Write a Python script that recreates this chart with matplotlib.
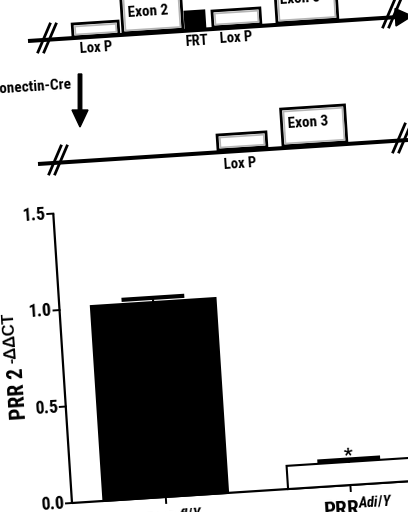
"""
Recreation of the PRR knockout figure: gene targeting schematic on top,
PRR 2^-ddCT bar chart below. The source image is tilted by a few degrees,
so the whole drawing is rotated by TILT.
"""

import matplotlib
matplotlib.use("Agg")
import matplotlib.pyplot as plt
from matplotlib import font_manager
from matplotlib.patches import Rectangle, Polygon, FancyArrow
from matplotlib.transforms import Affine2D

# ── fonts ────────────────────────────────────────────────────────────────────
_names = {f.name for f in font_manager.fontManager.ttflist}
_narrow = [n for n in ("Roboto Condensed", "Liberation Sans Narrow", "Archivo Narrow")
           if n in _names]
NARROW = _narrow[0] if _narrow else "Liberation Sans"
WIDE = "Liberation Sans"

plt.rcParams.update({
    "font.family": [NARROW, "DejaVu Sans"],
    "font.weight": "bold",
    "mathtext.fontset": "custom",
    "mathtext.rm": f"{NARROW}:bold",
    "mathtext.it": f"{NARROW}:bold:italic",
    "mathtext.bf": f"{NARROW}:bold",
})

# ── data ─────────────────────────────────────────────────────────────────────
genotypes = [r"PRR$^{fl/Y}$", r"PRR$^{Adi/Y}$"]
expression = [1.01, 0.12]
sem = [0.022, 0.012]
bar_colors = ["black", "white"]
significance = ["", "*"]
y_ticks = [0.0, 0.5, 1.0, 1.5]
y_label_main = "PRR 2"
y_label_sup = "-ΔΔCT"

# ── figure ───────────────────────────────────────────────────────────────────
W, H, DPI = 408, 512, 100
TILT = 3.7
fig = plt.figure(figsize=(W / DPI, H / DPI), dpi=DPI)

# schematic layer, pixel coordinates with y pointing down
sk = fig.add_axes([0, 0, 1, 1])
sk.set_xlim(0, W)
sk.set_ylim(H, 0)
sk.axis("off")


def strand(p0, p1):
    sk.plot([p0[0], p1[0]], [p0[1], p1[1]], color="black", lw=2.9,
            solid_capstyle="butt", zorder=2)


def box(x, y, w, h, fill="white", inner=True):
    sk.add_patch(Rectangle((x, y), w, -h, angle=-TILT, facecolor=fill,
                           edgecolor="black", lw=2.0, zorder=3))
    if inner:
        sk.add_patch(Rectangle((x + 2.5, y - 2.5), w - 5, -(h - 5), angle=-TILT,
                               facecolor="none", edgecolor="#b5b5b5", lw=1.2, zorder=3))


def slashes(x, y):
    for dx in (0, 6):
        sk.plot([x + dx - 6, x + dx + 6], [y + 14, y - 14], color="black",
                lw=2.0, zorder=4)


def label(x, y, s, size=10.5):
    sk.text(x, y, s, ha="center", va="center", fontsize=size, rotation=TILT,
            fontweight="bold", zorder=5)


# floxed allele
strand((28, 41), (398, 17))
sk.add_patch(Polygon([(395, 8.5), (396, 26), (412, 16)], closed=True,
                     facecolor="black", edgecolor="black", zorder=4))
box(73, 37, 46, 13)
box(123, 33, 60, 48)
box(186, 29, 19, 17, fill="black", inner=False)
box(213, 27, 48, 16)
box(277, 23, 61, 48)
label(148, 12, "Exon 2", 11)
label(300, -1, "Exon 3", 11)
label(96, 48, "Lox P")
label(196, 41, "FRT")
label(236, 38, "Lox P")
slashes(44, 38)
slashes(389, 13)

# Cre arrow
sk.text(72, 88, "Adiponectin-Cre", ha="right", va="center", fontsize=11,
        rotation=TILT, fontweight="bold")
sk.add_patch(FancyArrow(80, 74, 0, 53, width=3.5, head_width=16, head_length=17,
                        length_includes_head=True, color="black", zorder=4))

# recombined allele
strand((38, 164), (408, 140))
box(218, 150, 49, 15)
box(283, 146, 64, 37)
label(308, 123, "Exon 3", 11)
label(240, 164, "Lox P")
slashes(55, 160)
slashes(399, 138)

# ── bar chart ────────────────────────────────────────────────────────────────
ax = fig.add_axes([72 / W, 9 / H, 345 / W, 290 / H])
x_min, x_max = -0.508, 1.357
ax.set_xlim(x_min, x_max)
ax.set_ylim(0, 1.5)
ax.axis("off")
rot = Affine2D().rotate_deg_around(72, 9, TILT)
tr = ax.transData + rot

px_x = (x_max - x_min) / 345   # data units per pixel along x
px_y = 1.5 / 290               # data units per pixel along y
xs = list(range(len(genotypes)))

bars = ax.bar(xs, expression, width=0.675, color=bar_colors,
              edgecolor="black", linewidth=1.5, zorder=3)
for b in bars:
    b.set_transform(tr)
    b.set_clip_on(False)

for x, v, e, star in zip(xs, expression, sem, significance):
    ax.plot([x, x], [v, v + e], color="black", lw=1.5, transform=tr,
            clip_on=False, zorder=4)
    ax.plot([x - 0.17, x + 0.17], [v + e, v + e], color="black", lw=3,
            solid_capstyle="butt", transform=tr, clip_on=False, zorder=4)
    if star:
        ax.text(x, v + e + 0.022, star, ha="center", va="center", fontsize=14,
                rotation=TILT, rotation_mode="anchor", transform=tr, zorder=5)

# axes lines
ax.plot([x_min, x_max + 0.2], [0, 0], color="black", lw=1.6, transform=tr,
        clip_on=False, solid_capstyle="butt")
ax.plot([x_min, x_min], [0, 1.5], color="black", lw=1.6, transform=tr,
        clip_on=False, solid_capstyle="butt")

# y ticks
for t in y_ticks:
    ax.plot([x_min - 6 * px_x, x_min], [t, t], color="black", lw=1.4,
            transform=tr, clip_on=False)
    ax.text(x_min - 7.5 * px_x, t, f"{t:.1f}", ha="right", va="center",
            fontsize=13, rotation=TILT, rotation_mode="anchor", transform=tr)

# x ticks
for x, g in zip(xs, genotypes):
    ax.plot([x, x], [0, -6 * px_y], color="black", lw=1.4, transform=tr,
            clip_on=False)
    ax.text(x + 6 * px_x, -13 * px_y, g, ha="center", va="top", fontsize=15,
            rotation=TILT, rotation_mode="anchor", transform=tr)

# y label
ax.text(x_min - 41 * px_x, 0.447, y_label_main, ha="left", va="baseline",
        fontsize=15.5, rotation=90 + TILT, rotation_mode="anchor", transform=tr)
ax.text(x_min - 46 * px_x, 0.74, y_label_sup, ha="left", va="baseline",
        fontsize=12, fontfamily=[WIDE, "DejaVu Sans"], rotation=90 + TILT,
        rotation_mode="anchor", transform=tr)

fig.savefig("out.png", dpi=DPI)
